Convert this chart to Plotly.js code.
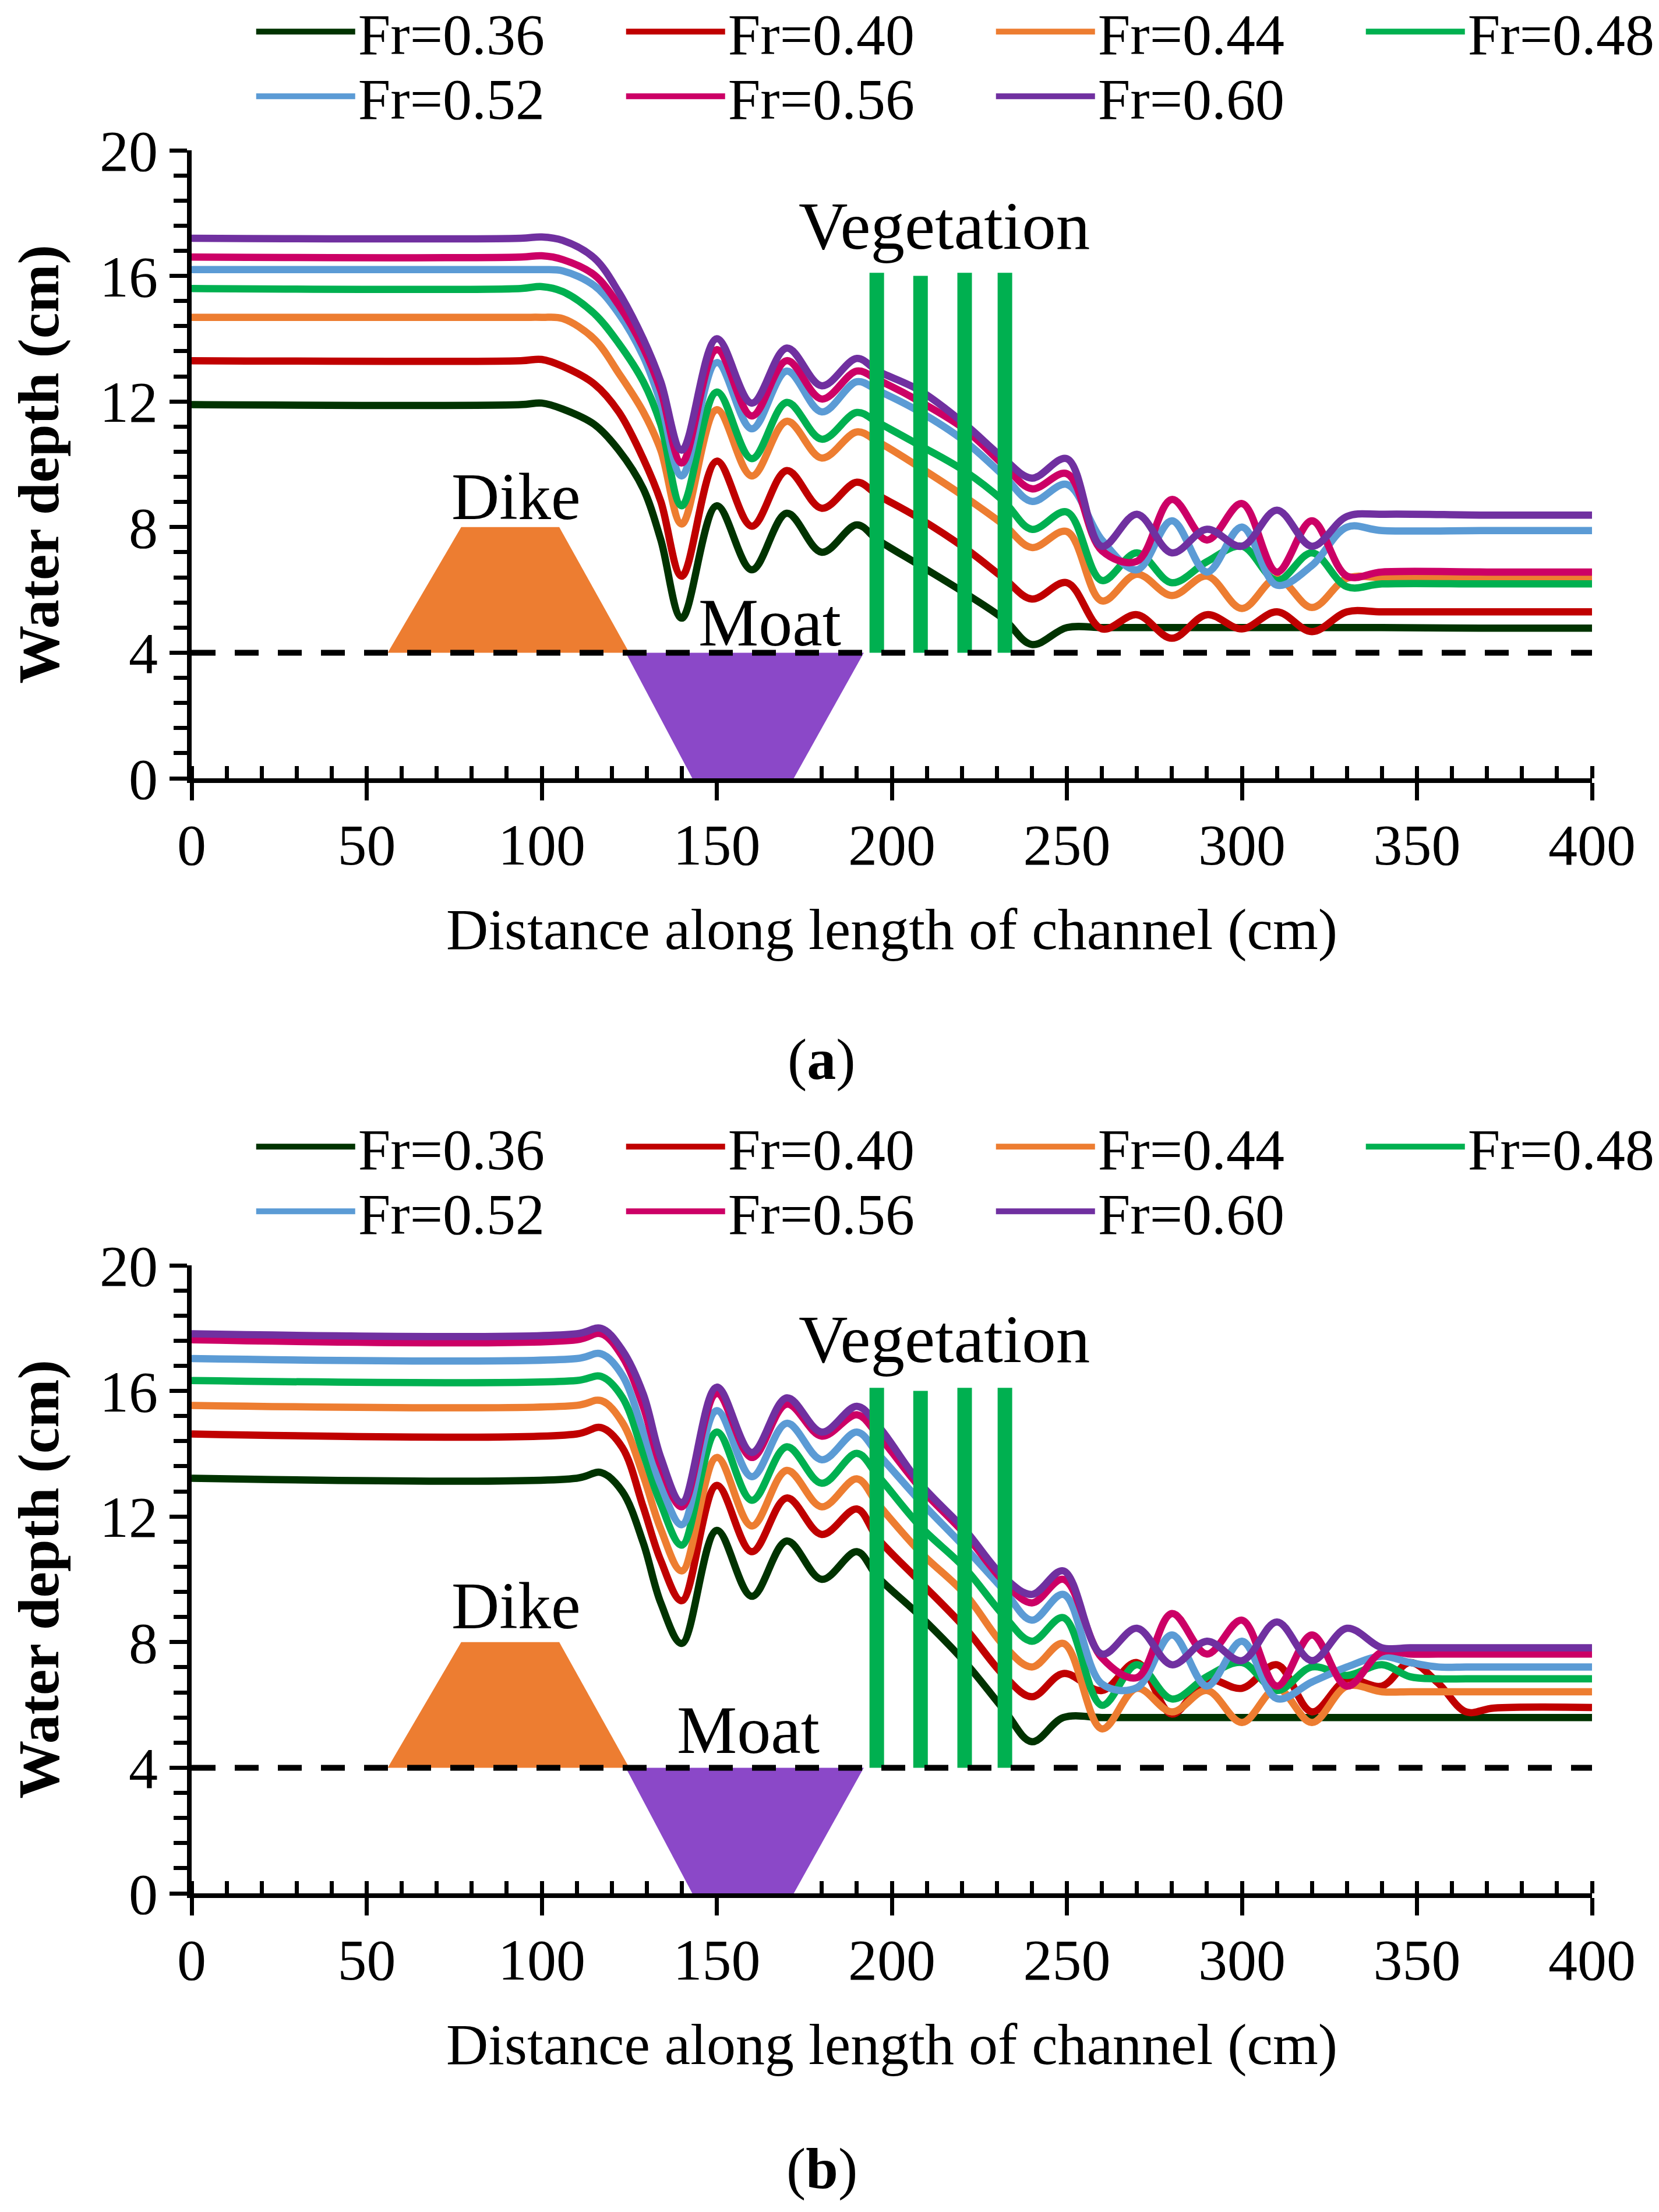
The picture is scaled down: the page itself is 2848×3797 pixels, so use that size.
<!DOCTYPE html>
<html>
<head>
<meta charset="utf-8">
<script src="https://cdn.plot.ly/plotly-3.0.1.min.js"></script>
<style>
  body { margin: 0; background: #fff; }
  .panel { width: 2848px; }
</style>
</head>
<body>
<div id="panelA" class="panel"></div>
<div id="panelB" class="panel"></div>
<script>
// series labels and colours
var frLabels = ['Fr=0.36', 'Fr=0.40', 'Fr=0.44', 'Fr=0.48', 'Fr=0.52', 'Fr=0.56', 'Fr=0.60'];
var frColors = ['#003300', '#C00000', '#ED7D31', '#00B050', '#5B9BD5', '#CC0066', '#7030A0'];

// panel (a): distance (cm) and water depth (cm) per Froude number
var distA = [0, 94, 100, 106, 115, 122, 129, 134, 140, 150, 160, 170, 180, 190, 196, 208, 221, 232, 240, 250, 260, 270, 280, 290, 300, 310, 320, 330, 340, 370, 400];
var a036 = [11.9, 11.9, 11.95, 11.76, 11.27, 10.45, 9.22, 7.6, 5.1, 8.68, 6.64, 8.44, 7.2, 8.07, 7.59, 6.78, 5.89, 5.07, 4.26, 4.8, 4.8, 4.8, 4.8, 4.8, 4.8, 4.8, 4.8, 4.8, 4.8, 4.78, 4.78];
var a040 = [13.3, 13.3, 13.34, 13.12, 12.56, 11.67, 10.18, 8.82, 6.44, 10.1, 8.03, 9.8, 8.6, 9.43, 9.02, 8.27, 7.32, 6.37, 5.71, 6.23, 4.76, 5.21, 4.46, 5.21, 4.76, 5.3, 4.67, 5.3, 5.3, 5.3, 5.3];
var a044 = [14.68, 14.68, 14.68, 14.64, 13.99, 12.9, 11.67, 10.45, 8.1, 11.74, 9.63, 11.37, 10.2, 11.03, 10.72, 9.9, 8.95, 8.07, 7.35, 7.86, 5.65, 6.5, 5.82, 6.44, 5.41, 6.37, 5.44, 6.37, 6.4, 6.4, 6.4];
var a048 = [15.6, 15.6, 15.66, 15.5, 14.8, 13.85, 12.63, 11.27, 8.68, 12.3, 10.18, 11.97, 10.8, 11.65, 11.33, 10.6, 9.77, 8.82, 7.93, 8.48, 6.3, 7.18, 6.23, 6.9, 7.39, 6.3, 7.18, 6.1, 6.19, 6.19, 6.19];
var a052 = [16.2, 16.2, 16.2, 16.16, 15.69, 14.8, 13.44, 11.95, 9.63, 13.24, 11.13, 12.97, 11.67, 12.63, 12.35, 11.67, 10.72, 9.63, 8.82, 9.36, 7.59, 6.64, 8.2, 6.57, 8.0, 6.15, 6.78, 8.0, 7.89, 7.89, 7.89];
var a056 = [16.6, 16.6, 16.64, 16.52, 16.03, 15.07, 13.71, 12.35, 10.04, 13.65, 11.54, 13.3, 12.08, 12.97, 12.69, 12.0, 11.1, 9.97, 9.22, 9.7, 7.25, 6.91, 8.88, 7.59, 8.75, 6.57, 8.2, 6.44, 6.57, 6.57, 6.57];
var a060 = [17.2, 17.2, 17.24, 17.13, 16.57, 15.48, 13.99, 12.63, 10.45, 14.0, 11.95, 13.7, 12.5, 13.37, 12.97, 12.35, 11.27, 10.18, 9.56, 10.18, 7.39, 8.41, 7.18, 7.93, 7.39, 8.54, 7.39, 8.34, 8.41, 8.38, 8.38];

// panel (b)
var distB = [0, 110, 117, 123, 129, 134, 140, 150, 160, 170, 180, 190, 196, 208, 221, 232, 240, 249, 260, 270, 280, 290, 300, 310, 320, 330, 340, 348, 356, 364, 372, 400];
var b036 = [13.22, 13.22, 13.4, 12.8, 11.16, 9.25, 7.96, 11.56, 9.46, 11.22, 10.0, 10.88, 10.07, 8.84, 7.35, 5.85, 4.83, 5.6, 5.6, 5.6, 5.6, 5.6, 5.6, 5.6, 5.6, 5.6, 5.6, 5.6, 5.6, 5.6, 5.6, 5.6];
var b040 = [14.63, 14.63, 14.83, 14.2, 12.3, 10.6, 9.32, 12.99, 10.88, 12.59, 11.43, 12.24, 11.3, 9.93, 8.44, 6.94, 6.26, 7.0, 6.46, 7.35, 5.71, 6.8, 6.53, 7.28, 5.78, 6.8, 6.6, 7.35, 6.7, 5.78, 5.9, 5.92];
var b044 = [15.54, 15.54, 15.69, 15.0, 13.3, 11.6, 10.27, 13.88, 11.7, 13.47, 12.31, 13.2, 12.4, 10.88, 9.52, 7.89, 7.21, 7.96, 5.24, 6.53, 5.78, 6.46, 5.44, 6.53, 5.44, 6.6, 6.42, 6.42, 6.42, 6.42, 6.42, 6.42];
var b048 = [16.33, 16.33, 16.46, 15.8, 14.0, 12.4, 11.09, 14.69, 12.52, 14.22, 13.06, 14.01, 13.3, 11.7, 10.34, 8.84, 8.03, 8.78, 5.99, 7.28, 6.19, 6.9, 7.35, 6.46, 7.21, 6.94, 7.28, 6.9, 6.83, 6.83, 6.83, 6.83];
var b052 = [17.03, 17.03, 17.18, 16.5, 14.7, 13.0, 11.74, 15.37, 13.27, 14.97, 13.81, 14.69, 14.0, 12.5, 11.0, 9.66, 8.7, 9.52, 6.67, 6.55, 8.23, 6.6, 8.03, 6.2, 6.73, 7.21, 7.55, 7.35, 7.21, 7.21, 7.21, 7.21];
var b056 = [17.63, 17.63, 17.82, 17.1, 15.5, 13.6, 12.31, 15.92, 13.88, 15.58, 14.56, 15.24, 14.6, 12.93, 11.43, 9.93, 9.25, 10.0, 7.5, 6.87, 8.91, 7.62, 8.7, 6.6, 8.23, 6.6, 7.69, 7.62, 7.62, 7.62, 7.62, 7.62];
var b060 = [17.82, 17.82, 17.99, 17.3, 15.9, 13.88, 12.45, 16.12, 14.04, 15.78, 14.69, 15.51, 14.9, 13.06, 11.56, 10.07, 9.52, 10.27, 7.62, 8.44, 7.28, 8.03, 7.41, 8.64, 7.41, 8.44, 7.82, 7.82, 7.82, 7.82, 7.82, 7.82];

// channel geometry (cm)
var dikeX = [56, 77, 105, 125];
var dikeY = [4, 8, 8, 4];
var moatX = [124, 143, 172, 192];
var moatY = [4, 0, 0, 4];
var bedX = [0, 400];
var bedY = [4, 4];
var vegX = [195.7, 208.2, 220.8, 232.3];
var vegTop = [16.1, 16.0, 16.1, 16.1];
var vegBase = 4;

var FONT = '"Liberation Serif", "Times New Roman", serif';

function buildTraces(dist, series) {
  var traces = [];
  traces.push({x: dikeX, y: dikeY, type: 'scatter', mode: 'lines', fill: 'toself',
    fillcolor: '#ED7D31', line: {width: 0, color: '#ED7D31'}, showlegend: false, hoverinfo: 'skip'});
  traces.push({x: moatX, y: moatY, type: 'scatter', mode: 'lines', fill: 'toself',
    fillcolor: '#8B48C8', line: {width: 0, color: '#8B48C8'}, showlegend: false, hoverinfo: 'skip'});

  for (var i = 0; i < series.length; i++) {
    traces.push({
      x: dist, y: series[i], type: 'scatter', mode: 'lines', name: frLabels[i],
      legend: i < 4 ? 'legend' : 'legend2',
      line: {color: frColors[i], width: 12.5, shape: 'spline', smoothing: 1}
    });
  }

  // vegetation stems as one broken line
  var vx = [], vy = [];
  for (var j = 0; j < vegX.length; j++) {
    vx.push(vegX[j], vegX[j], null);
    vy.push(vegBase, vegTop[j], null);
  }
  traces.push({x: vx, y: vy, type: 'scatter', mode: 'lines', connectgaps: false,
    line: {color: '#00B050', width: 25}, showlegend: false, hoverinfo: 'skip'});

  // dashed bed level, on the overlay axis that carries the crossing ticks
  traces.push({x: bedX, y: bedY, xaxis: 'x2', type: 'scatter', mode: 'lines',
    line: {color: '#000', width: 10, dash: '41px,33px'}, showlegend: false, hoverinfo: 'skip'});
  return traces;
}

function legendBox(y) {
  return {
    orientation: 'h', x: -0.0001, xanchor: 'left', y: y, yanchor: 'middle',
    bgcolor: 'rgba(0,0,0,0)', bordercolor: 'rgba(0,0,0,0)', borderwidth: 106,
    font: {family: FONT, size: 100, color: '#000'},
    itemwidth: 170, entrywidth: 450, entrywidthmode: 'pixels',
    traceorder: 'normal', valign: 'middle'
  };
}

function buildLayout(height, tag, tagY, dikeLabelY, moatLabelX, moatLabelY, vegLabelY) {
  var tickFont = {family: FONT, size: 100, color: '#000'};
  return {
    width: 2848, height: height,
    margin: {l: 329, r: 115, t: 258, b: height - 1336, autoexpand: false},
    paper_bgcolor: '#fff', plot_bgcolor: '#fff',
    showlegend: true,
    legend: legendBox(1.189),
    legend2: legendBox(1.086),
    xaxis: {
      range: [0, 400], dtick: 50, tick0: 0, ticks: 'outside', ticklen: 30, tickwidth: 7, tickcolor: '#000',
      showline: true, linewidth: 8, linecolor: '#000', showgrid: false, zeroline: false,
      tickfont: tickFont, layer: 'below traces', ticklabelstandoff: -10,
      minor: {dtick: 10, ticks: 'inside', ticklen: 21, tickwidth: 7, tickcolor: '#000', showgrid: false},
      title: {text: 'Distance along length of channel (cm)', font: {family: FONT, size: 100, color: '#000'}, standoff: 57}
    },
    xaxis2: {
      overlaying: 'x', anchor: 'y', range: [0, 400], dtick: 50, tick0: 0,
      ticks: 'inside', ticklen: 21, tickwidth: 7, tickcolor: '#000',
      showticklabels: false, showline: false, showgrid: false, zeroline: false, layer: 'below traces'
    },
    yaxis: {
      range: [0, 20], dtick: 4, tick0: 0, ticks: 'outside', ticklen: 30, tickwidth: 7, tickcolor: '#000',
      showline: true, linewidth: 8, linecolor: '#000', showgrid: false, zeroline: false,
      tickfont: tickFont, layer: 'below traces',
      minor: {dtick: 0.8, ticks: 'outside', ticklen: 23, tickwidth: 7, tickcolor: '#000', showgrid: false},
      title: {text: 'Water depth (cm)', font: {family: FONT, size: 100, color: '#000', weight: 'bold'}, standoff: 40}
    },
    annotations: [
      {x: 215, y: vegLabelY, xref: 'x', yref: 'y', text: 'Vegetation', showarrow: false,
        font: {family: FONT, size: 117, color: '#000'}, xanchor: 'center', yanchor: 'middle'},
      {x: 92.6, y: dikeLabelY, xref: 'x', yref: 'y', text: 'Dike', showarrow: false,
        font: {family: FONT, size: 114, color: '#000'}, xanchor: 'center', yanchor: 'middle'},
      {x: moatLabelX, y: moatLabelY, xref: 'x', yref: 'y', text: 'Moat', showarrow: false,
        font: {family: FONT, size: 116, color: '#000'}, xanchor: 'center', yanchor: 'middle'},
      {x: 0.45, y: tagY, xref: 'paper', yref: 'paper', text: '(<b>' + tag + '</b>)', showarrow: false,
        font: {family: FONT, size: 100, color: '#000'}, xanchor: 'center', yanchor: 'middle'}
    ]
  };
}

var config = {staticPlot: true, displayModeBar: false, responsive: false};

Plotly.newPlot('panelA',
  buildTraces(distA, [a036, a040, a044, a048, a052, a056, a060]),
  buildLayout(1914, 'a', (1336 - 1818) / 1078, 8.97, 165.2, 4.95, 17.6),
  config);

Plotly.newPlot('panelB',
  buildTraces(distB, [b036, b040, b044, b048, b052, b056, b060]),
  buildLayout(1883, 'b', (1336 - 1808) / 1078, 9.15, 159, 5.2, 17.65),
  config);
</script>
</body>
</html>
